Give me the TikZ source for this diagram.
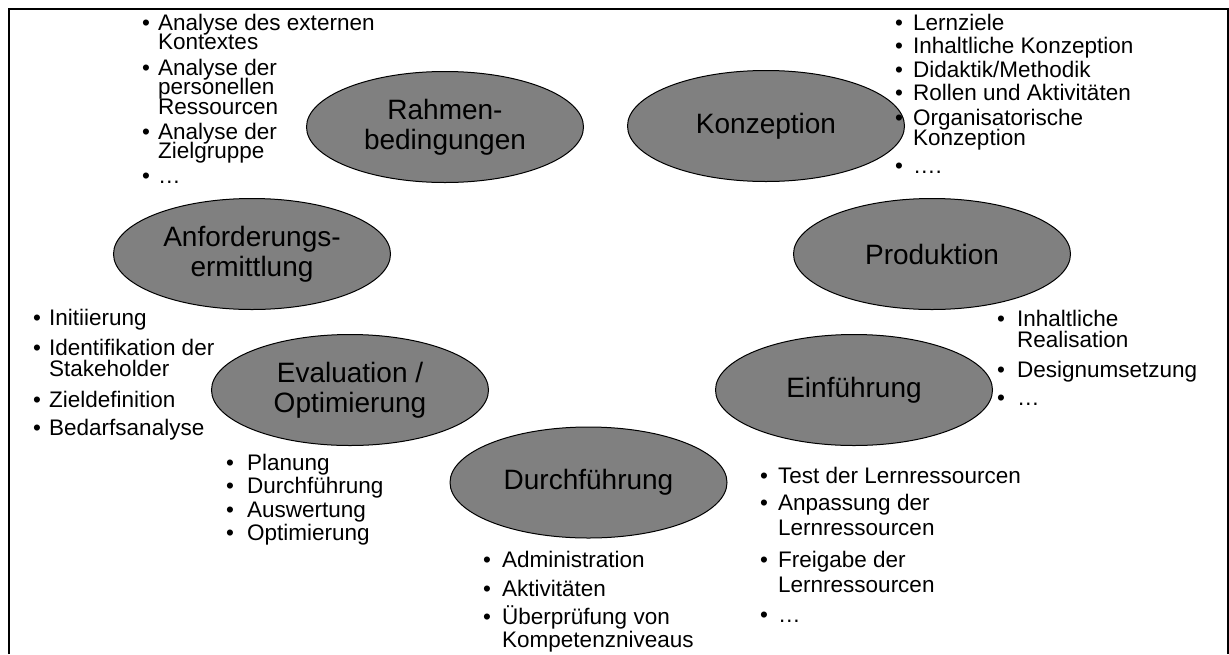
\documentclass[tikz,border=0pt]{standalone}
\usepackage{fontspec}
\setmainfont{Liberation Sans}
\usetikzlibrary{shapes.geometric}
\definecolor{phasegray}{RGB}{128,128,128}
\tikzset{
 phase/.style={ellipse, draw=black, line width=1pt, fill=phasegray, minimum width=277pt, minimum height=111pt, inner sep=0pt, align=center, font=\fontsize{28}{30}\selectfont, text=black},
 li/.style={anchor=base west, inner sep=0pt, font=\fontsize{22.5}{26}\selectfont, text=black},
 frameline/.style={line width=2pt, draw=black},
}
\newcommand{\bu}[1]{\makebox[#1pt][l]{\textbullet}}
\begin{document}
\begin{tikzpicture}[x=1pt,y=-1pt]
\useasboundingbox (0,0) rectangle (1229,654);
\fill[white] (0,0) rectangle (1229,654);
\draw[frameline] (9,654) -- (9,9) -- (1227.5,9) -- (1227.5,654);

% phases
\node[phase] (rahmen) at (445,127) {Rahmen-\\bedingungen};
\node[phase] (konz) at (766,126) {Konzeption};
\node[phase] (anf) at (252,254) {Anforderungs-\\ermittlung};
\node[phase] (prod) at (932,254) {Produktion};
\node[phase] (eval) at (350,390) {Evaluation /\\Optimierung};
\node[phase] (einf) at (854,390) {Einführung};
\node[phase] (durch) at (588.5,482.5) {Durchführung};

% list A
\node[li] (a1) at (142,30) {\bu{16}Analyse des externen};
\node[li] (a2) at (158,49.5) {Kontextes};
\node[li] (a3) at (142,75) {\bu{16}Analyse der};
\node[li] (a4) at (158,94.5) {personellen};
\node[li] (a5) at (158,114) {Ressourcen};
\node[li] (a6) at (142,139) {\bu{16}Analyse der};
\node[li] (a7) at (158,158.5) {Zielgruppe};
\node[li] (a8) at (142,183) {\bu{16}…};

% list B
\node[li] (b1) at (895,30) {\bu{18}Lernziele};
\node[li] (b2) at (895,53) {\bu{18}Inhaltliche Konzeption};
\node[li] (b3) at (895,77) {\bu{18}Didaktik/Methodik};
\node[li] (b4) at (895,100.5) {\bu{18}Rollen und Aktivitäten};
\node[li] (b5) at (895,125) {\bu{18}Organisatorische};
\node[li] (b6) at (913,145) {Konzeption};
\node[li] (b7) at (895,173) {\bu{18}….};

% list C
\node[li] (c1) at (33,325) {\bu{16}Initiierung};
\node[li] (c2) at (33,355) {\bu{16}Identifikation der};
\node[li] (c3) at (49,376.5) {Stakeholder};
\node[li] (c4) at (33,407) {\bu{16}Zieldefinition};
\node[li] (c5) at (33,435) {\bu{16}Bedarfsanalyse};

% list D
\node[li] (d1) at (997,326) {\bu{20}Inhaltliche};
\node[li] (d2) at (1017,347) {Realisation};
\node[li] (d3) at (997,377) {\bu{20}Designumsetzung};
\node[li] (d4) at (997,405) {\bu{20}…};

% list E
\node[li] (e1) at (226,470) {\bu{21}Planung};
\node[li] (e2) at (226,493) {\bu{21}Durchführung};
\node[li] (e3) at (226,517) {\bu{21}Auswertung};
\node[li] (e4) at (226,540) {\bu{21}Optimierung};

% list F
\node[li] (f1) at (483,567) {\bu{19}Administration};
\node[li] (f2) at (483,596) {\bu{19}Aktivitäten};
\node[li] (f3) at (483,624) {\bu{19}Überprüfung von};
\node[li] (f4) at (502,647) {Kompetenzniveaus};

% list G
\node[li] (g1) at (760,483) {\bu{18}Test der Lernressourcen};
\node[li] (g2) at (760,510) {\bu{18}Anpassung der};
\node[li] (g3) at (778,535) {Lernressourcen};
\node[li] (g4) at (760,567) {\bu{18}Freigabe der};
\node[li] (g5) at (778,592) {Lernressourcen};
\node[li] (g6) at (760,622) {\bu{18}…};
\end{tikzpicture}
\end{document}
